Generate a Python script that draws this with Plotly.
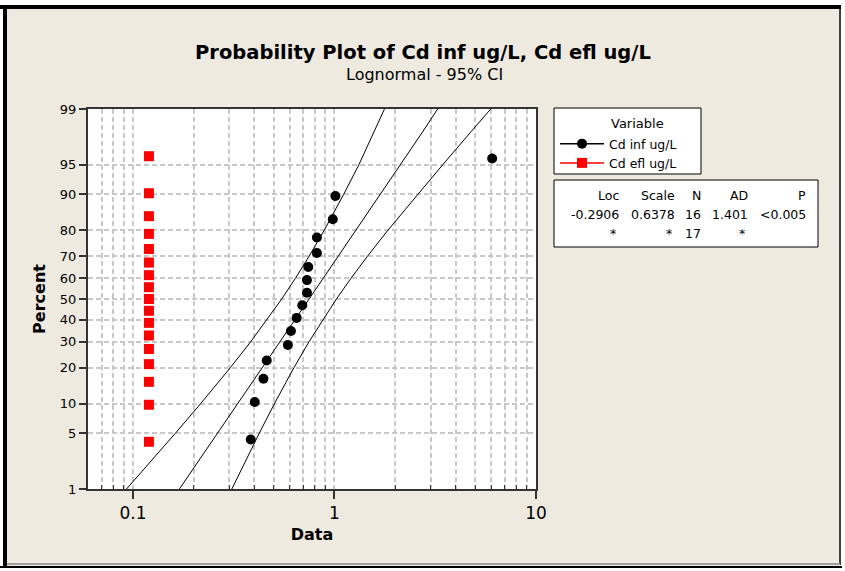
import plotly.graph_objects as go
from statistics import NormalDist

# ---------------- data ----------------
inf_data = [0.384, 0.402, 0.444, 0.461, 0.587, 0.608, 0.649, 0.692,
            0.730, 0.730, 0.741, 0.818, 0.818, 0.981, 1.01, 6.06]
inf_pct = [4.27, 10.37, 16.46, 22.56, 28.66, 34.76, 40.85, 46.95,
           53.05, 59.15, 65.24, 71.34, 77.44, 83.54, 89.63, 95.73]

efl_data = [0.12, 0.12, 0.12, 0.12, 0.12, 0.12, 0.12, 0.12, 0.12,
            0.12, 0.12, 0.12, 0.12, 0.12, 0.12, 0.12, 0.12]
efl_pct = [4.02, 9.77, 15.52, 21.26, 27.01, 32.76, 38.51, 44.25, 50.0,
           55.75, 61.49, 67.24, 72.99, 78.74, 84.48, 90.23, 95.98]

# fitted line and 95% CI bands (Cd inf ug/L), read at these percents
curve_pct = [1, 2, 5, 10, 20, 30, 40, 50, 60, 70, 80, 90, 95, 98, 99]
fit_x = [0.170, 0.202, 0.262, 0.330, 0.437, 0.535, 0.636, 0.748,
         0.879, 1.045, 1.279, 1.694, 2.135, 2.750, 3.250]
lower_x = [0.0929, 0.1163, 0.1622, 0.2166, 0.3039, 0.3835, 0.4632, 0.5471,
           0.6399, 0.7487, 0.8891, 1.1108, 1.3219, 1.580, 1.770]
upper_x = [0.3095, 0.3501, 0.4230, 0.5034, 0.6289, 0.7469, 0.8740, 1.0221,
           1.2075, 1.4582, 1.8403, 2.5819, 3.4484, 4.780, 5.960]

y_tick_pct = [1, 5, 10, 20, 30, 40, 50, 60, 70, 80, 90, 95, 99]
x_major = [0.1, 1, 10]
x_major_text = ["0.1", "1", "10"]
x_minor = [0.07, 0.08, 0.09, 0.2, 0.3, 0.4, 0.5, 0.6, 0.7, 0.8, 0.9,
           2, 3, 4, 5, 6, 7, 8, 9]

table_head = ["Loc", "Scale", "N", "AD", "P"]
table_row1 = ["-0.2906", "0.6378", "16", "1.401", "<0.005"]
table_row2 = ["*", "*", "17", "*", ""]

# ---------------- helpers ----------------
nd = NormalDist()


def probit(p_list):
    return [nd.inv_cdf(p / 100.0) for p in p_list]


W, H = 845, 571
L, R, T, B = 88, 536, 109, 489          # plot area in pixels


def px(x):
    return (x - L) / (R - L)


def py(y):
    return (B - y) / (B - T)


FONT = "DejaVu Sans"
BEIGE = "#EEEAE0"
GRID = "#C8C8C8"
AXC = "#333333"

fig = go.Figure()

# CI curves and fit line
for xs in (lower_x, fit_x, upper_x):
    fig.add_trace(go.Scatter(x=xs, y=probit(curve_pct), mode="lines",
                             line=dict(color="black", width=1),
                             showlegend=False, hoverinfo="skip"))

fig.add_trace(go.Scatter(x=inf_data, y=probit(inf_pct), mode="markers",
                         marker=dict(symbol="circle", size=10, color="black"),
                         showlegend=False, name="Cd inf ug/L"))
fig.add_trace(go.Scatter(x=efl_data, y=probit(efl_pct), mode="markers",
                         marker=dict(symbol="square", size=10, color="#FF0000"),
                         showlegend=False, name="Cd efl ug/L"))

# legend entries
fig.add_trace(go.Scatter(x=[None], y=[None], mode="lines+markers",
                         name="Cd inf ug/L",
                         line=dict(color="black", width=1.5),
                         marker=dict(symbol="circle", size=10, color="black")))
fig.add_trace(go.Scatter(x=[None], y=[None], mode="lines+markers",
                         name="Cd efl ug/L",
                         line=dict(color="#FF0000", width=1.5),
                         marker=dict(symbol="square", size=10, color="#FF0000")))

# ---------------- frame ----------------
shapes = []


def prect(x0, y0, x1, y1, fill, line_color=None, line_width=0, layer="below"):
    shapes.append(dict(type="rect", xref="paper", yref="paper",
                       x0=px(x0), x1=px(x1), y0=py(y1), y1=py(y0),
                       fillcolor=fill, layer=layer,
                       line=dict(color=line_color or fill, width=line_width)))


# white outside strips
prect(0, 0, W, 5, "white")
prect(0, 0, 3, H, "white")
prect(841, 0, W, H, "white")
prect(0, 568, W, H, "white")
# black/grey frame
prect(0, 5, 841, 9, "black")
prect(3, 5, 7, 568, "black")
prect(839, 9, 841, 565, "#404040")
prect(7, 563, 840, 565, "#A0A0A0")
prect(0, 566, 842, 568, "black")

# legend box and statistics table box
prect(554, 108, 701, 174, "white", "black", 1, layer="above")
prect(554, 180, 818, 247, "white", "black", 1, layer="above")

fig.update_layout(shapes=shapes)

# ---------------- annotations ----------------
ann = []
ann.append(dict(text="<b>Probability Plot of Cd inf ug/L, Cd efl ug/L</b>",
                x=px(W / 2), y=py(52), xref="paper", yref="paper",
                showarrow=False, xanchor="center", yanchor="middle",
                font=dict(family=FONT, size=19.5, color="black")))
ann.append(dict(text="Lognormal - 95% CI",
                x=px(W / 2 + 2), y=py(75), xref="paper", yref="paper",
                showarrow=False, xanchor="center", yanchor="middle",
                font=dict(family=FONT, size=16, color="black")))
ann.append(dict(text="Variable",
                x=px(637), y=py(123), xref="paper", yref="paper",
                showarrow=False, xanchor="center", yanchor="middle",
                font=dict(family=FONT, size=13, color="black")))

col_right = [621, 677, 703, 750, 808]
for i in range(5):
    for txt, yy in ((table_head[i], 195), (table_row1[i], 214), (table_row2[i], 233)):
        if txt == "":
            continue
        xr = col_right[i]
        if txt == "*":
            xr = col_right[i] - 3
        ann.append(dict(text=txt, x=px(xr), y=py(yy), xref="paper", yref="paper",
                        showarrow=False, xanchor="right", yanchor="middle",
                        font=dict(family=FONT, size=12.5, color="black")))

fig.update_layout(annotations=ann)

# ---------------- axes ----------------
fig.update_xaxes(
    type="log", range=[-1.2232, 1],
    tickmode="array", tickvals=x_major, ticktext=x_major_text,
    ticks="outside", ticklen=8, tickwidth=1.5, tickcolor=AXC,
    tickfont=dict(family=FONT, size=17, color="black"),
    showgrid=True, gridcolor=GRID, gridwidth=1.5, griddash="5px,3px",
    minor=dict(tickmode="array", tickvals=x_minor, ticks="inside", ticklen=4,
               tickwidth=1, tickcolor=AXC, showgrid=True, gridcolor=GRID,
               gridwidth=1.5, griddash="5px,3px"),
    showline=True, linecolor=AXC, linewidth=2, mirror=True,
    zeroline=False,
    title=dict(text="<b>Data</b>", standoff=6,
               font=dict(family=FONT, size=16, color="black")),
)
fig.update_yaxes(
    range=[nd.inv_cdf(0.01), nd.inv_cdf(0.99)],
    tickmode="array", tickvals=probit(y_tick_pct),
    ticktext=[str(v) for v in y_tick_pct],
    ticks="outside", ticklen=7, tickwidth=1.5, tickcolor=AXC,
    tickfont=dict(family=FONT, size=13, color="black"),
    showgrid=True, gridcolor=GRID, gridwidth=1.5, griddash="5px,3px",
    showline=True, linecolor=AXC, linewidth=2, mirror=True,
    zeroline=False,
    title=dict(text="<b>Percent</b>", standoff=10,
               font=dict(family=FONT, size=16, color="black")),
)

fig.update_layout(
    width=W, height=H, autosize=False,
    margin=dict(l=L, r=W - R, t=T, b=H - B, pad=0),
    paper_bgcolor=BEIGE, plot_bgcolor="white",
    font=dict(family=FONT, color="black"),
    showlegend=True,
    legend=dict(x=px(555), y=py(129), xanchor="left", yanchor="top",
                bgcolor="rgba(0,0,0,0)", borderwidth=0,
                font=dict(family=FONT, size=12.5, color="black"),
                itemwidth=44, tracegroupgap=0,
                itemclick=False, itemdoubleclick=False),
    hovermode=False,
)

fig.write_html("out.html", config={"displayModeBar": False},
               post_script="document.body.style.margin='0px';")
